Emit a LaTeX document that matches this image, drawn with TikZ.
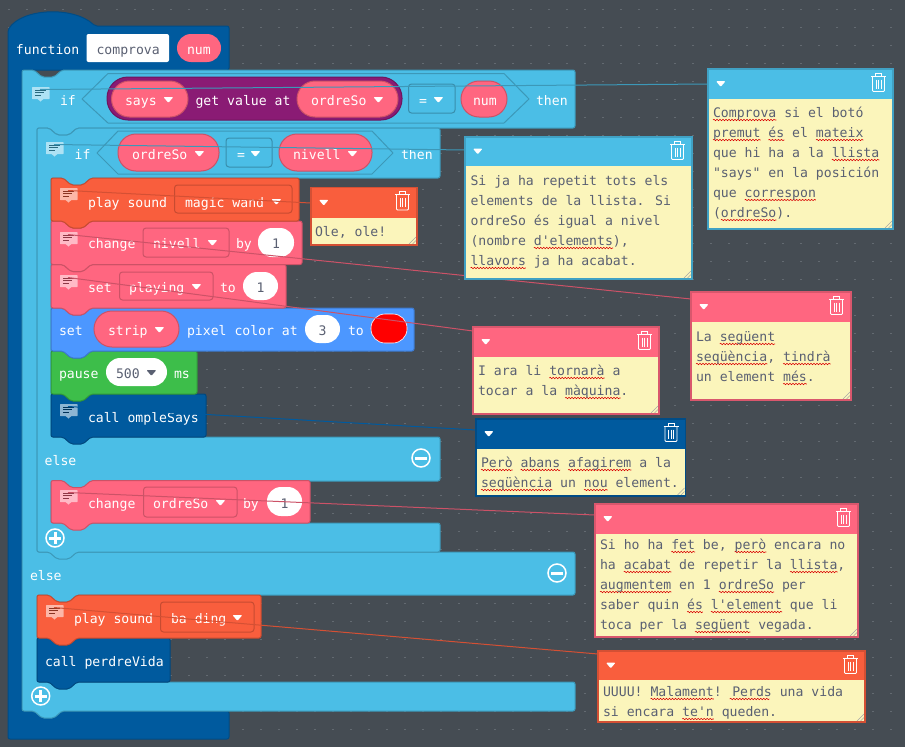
\documentclass[tikz,border=0pt]{standalone}
\usepackage{fontspec}
\usetikzlibrary{decorations.pathmorphing}
\newfontfamily\blkfont{DejaVu Sans Mono}
\definecolor{bgc}{HTML}{454C53}
\definecolor{dotc}{HTML}{636A71}
\definecolor{funcc}{HTML}{005A9E}
\definecolor{logicc}{HTML}{4BBEE6}
\definecolor{varc}{HTML}{FF6680}
\definecolor{musicc}{HTML}{F95E3D}
\definecolor{stripc}{HTML}{4C97FF}
\definecolor{basicc}{HTML}{3DBE4A}
\definecolor{arrc}{HTML}{8A1B74}
\definecolor{notec}{HTML}{FBF5BB}
\definecolor{inkc}{HTML}{5A6072}
\newcounter{itm}
\tikzset{
  x=1pt,y=-1pt,
  lbl/.style={anchor=base west,inner sep=0pt,outer sep=0pt,text=white,font=\blkfont\fontsize{13.15}{20}\selectfont},
  ink/.style={lbl,text=inkc},
  conn/.style={line width=1pt},
  pillbox/.style={fill=varc,draw=varc!80!black,line width=1pt},
  ddbox/.style={line width=1pt},
  whitebox/.style={fill=white,draw=none},
  squig/.style={draw=red!85!black,line width=.55pt,decorate,decoration={snake,amplitude=.7pt,segment length=3pt}},
  trashline/.style={draw=white,line width=.9pt},
}
% generic rounded box as a named node: style, x0,y0,x1,y1, radius
\newcommand{\bx}[6]{\stepcounter{itm}%
  \pgfmathsetmacro{\bw}{#4-#2}\pgfmathsetmacro{\bh}{#5-#3}%
  \pgfmathsetmacro{\bcx}{(#2+#4)/2}\pgfmathsetmacro{\bcy}{(#3+#5)/2}%
  \node (b\theitm) [#1,inner sep=0pt,outer sep=0pt,minimum width=\bw pt,minimum height=\bh pt,rounded corners=#6pt] at (\bcx,\bcy) {};}
\newcommand{\tx}[3]{\stepcounter{itm}\node (t\theitm) [lbl] at (#1,#2) {#3};}
\newcommand{\ti}[3]{\stepcounter{itm}\node (t\theitm) [ink] at (#1,#2) {#3};}
\newcommand{\tc}[3]{\stepcounter{itm}\node (t\theitm) [lbl,anchor=base,text=inkc] at (#1,#2) {#3};}
\newcommand{\tri}[3][white]{\fill[#1,rounded corners=1pt] (#2-.6,#3-8) -- (#2+9.4,#3-8) -- (#2+4.4,#3-2.2) -- cycle;}
\newcommand{\tabdn}[2]{-- (#1+40,#2) -- (#1+32,#2+7) -- (#1+20,#2+7) -- (#1+12,#2) -- (#1,#2)}
\newcommand{\ntop}[2]{-- (#1+12,#2) -- (#1+20,#2+7) -- (#1+32,#2+7) -- (#1+40,#2)}
% statement block: colour, x0,y0,x1,y1
\newcommand{\stmt}[5]{\draw[fill=#1,draw=#1!80!black,line width=1pt,rounded corners=2pt]
  (#2,#3) \ntop{#2}{#3} -- (#4,#3) -- (#4,#5) \tabdn{#2}{#5} -- cycle;}
% comment icon: name,x,y,colour
\newcommand{\cic}[4]{%
  \node (#1box) [fill=#4!45!white,inner sep=0pt,outer sep=0pt,minimum width=17.5pt,minimum height=12pt,anchor=north west,rounded corners=.5pt] at (#2,#3) {};
  \fill[#4!45!white] (#2+5,#3+11.5) -- (#2+12,#3+11.5) -- (#2+8.5,#3+14.5) -- cycle;
  \draw[#4!55!black,line width=.9pt] (#2+3,#3+3) -- (#2+14,#3+3) (#2+3,#3+5.7) -- (#2+12,#3+5.7) (#2+3,#3+8.4) -- (#2+9,#3+8.4);
  \coordinate (#1) at (#2+8,#3+2.5);}
% comment note: name,x0,y0,x1,yh,y1,colour,connector y
\newcommand{\note}[8]{%
  \fill[notec] (#2,#3) rectangle (#4,#6);
  \bx{fill=#7}{#2}{#3}{#4}{#5}{0}
  \draw[#7!85!black,line width=1.3pt] (#2,#3) rectangle (#4,#6);
  \coordinate (#1) at (#2,#8);
  \pgfmathsetmacro{\midh}{(#3+#5)/2}
  \fill[white,rounded corners=1pt] (#2+8,\midh-2.8) -- (#2+17.5,\midh-2.8) -- (#2+12.7,\midh+2.8) -- cycle;
  \begin{scope}[shift={(#4-22,#3+3)},x=1pt,y=-1pt]
    \draw[trashline,rounded corners=1pt] (1.5,4.5) -- (1.5,19.5) -- (13.5,19.5) -- (13.5,4.5);
    \draw[trashline] (0,4.2) -- (15,4.2);
    \draw[trashline] (4.5,4.2) -- (4.5,1) -- (10.5,1) -- (10.5,4.2);
    \draw[trashline,line width=.8pt] (5,7.5) -- (5,16.5) (7.5,7.5) -- (7.5,16.5) (10,7.5) -- (10,16.5);
  \end{scope}
  \draw[gray!70,line width=.6pt] (#4-8,#6-1) -- (#4-1,#6-8) (#4-4.5,#6-1) -- (#4-1,#6-4.5);}
\newcommand{\nl}[3]{\stepcounter{itm}\node (t\theitm) [ink] at (#1,#2) {#3};}
\newcommand{\nlu}[4]{\foreach \ca/\cb in {#4}{\draw[squig] (#1+\ca*7.92,#2+3) -- (#1+\cb*7.92,#2+3);}%
  \nl{#1}{#2}{#3}}
\newcommand{\circbtn}[3]{\stepcounter{itm}%
  \node (c\theitm) [circle,draw=white,line width=1.5pt,minimum size=18pt,inner sep=0pt] at (#1,#2) {};
  \draw[white,line width=3pt] (#1-6,#2) -- (#1+6,#2);
  \ifnum#3=1 \draw[white,line width=3pt] (#1,#2-6) -- (#1,#2+6);\fi}
\begin{document}
\begin{tikzpicture}
\useasboundingbox (0,0) rectangle (905,747);
\fill[bgc] (0,0) rectangle (905,747);
% workspace grid
\foreach \gx in {0,...,50}{\foreach \gy in {0,...,41}{
  \fill[dotc] (8.7+\gx*18-1.1,9.3+\gy*18-.5) rectangle (8.7+\gx*18+1.1,9.3+\gy*18+.5);}}

% function block
\draw[fill=funcc,draw=funcc!85!black,line width=1pt,rounded corners=2pt]
  (8,30) .. controls (22,8) and (74,6) .. (95,26) -- (229,26) -- (229,70) -- (22,70) -- (22,711) -- (229,711) -- (229,739) -- (8,739) -- cycle;
\tx{16}{54}{function}
\bx{whitebox}{86.5}{34}{169}{62}{2}
\ti{96.5}{54}{comprova}
\bx{pillbox,draw=none}{177}{34}{221}{62}{14}
\tx{187}{54}{num}

% outer if
\draw[fill=logicc,draw=logicc!80!black,line width=1pt,rounded corners=2pt]
  (22,70) \ntop{22}{70} -- (575,70) -- (575,128) \tabdn{37}{128} -- (37,552) -- (575,552) -- (575,595)
  \tabdn{37}{595} -- (37,682) -- (575,682) -- (575,711) \tabdn{22}{711} -- cycle;
\draw[fill=logicc,draw=logicc!80!black,line width=1pt,line join=round]
  (82,99) -- (108,73.5) -- (504,73.5) -- (529,99) -- (504,123) -- (108,123) -- cycle;
\bx{fill=arrc,draw=arrc!80!black,line width=1pt}{107}{77}{402}{120}{21}
\tx{60}{105}{if}
\bx{pillbox}{111.5}{81}{188}{117}{18}
\tx{125}{105}{says}\tri{164}{105}
\tx{195.5}{105}{get value at}
\bx{pillbox}{297}{81}{398}{117}{18}
\tx{311}{105}{ordreSo}\tri{374}{105}
\bx{ddbox,fill=logicc,draw=logicc!75!black}{408.5}{84}{455}{113}{3}
\tx{419}{105}{=}\tri{434}{105}
\bx{pillbox}{461}{81}{507}{117}{18}
\tx{473}{105}{num}
\tx{536}{105}{then}
\tx{30}{580}{else}
\circbtn{557}{573}{0}
\circbtn{40.7}{696}{1}

% inner if
\draw[fill=logicc,draw=logicc!80!black,line width=1pt,rounded corners=2pt]
  (37,128) \ntop{37}{128} -- (440,128) -- (440,178) \tabdn{51}{178} -- (51,437) -- (440,437) -- (440,481)
  \tabdn{51}{481} -- (51,523) -- (440,523) -- (440,552) \tabdn{37}{552} -- cycle;
\draw[fill=logicc,draw=logicc!80!black,line width=1pt,line join=round]
  (97,153) -- (118,131) -- (372,131) -- (393,153) -- (372,174) -- (118,174) -- cycle;
\tx{74.7}{159}{if}
\bx{pillbox}{118}{134}{219}{171}{18}
\tx{132}{159}{ordreSo}\tri{195}{159}
\bx{ddbox,fill=logicc,draw=logicc!75!black}{226}{138}{272}{167}{3}
\tx{237}{159}{=}\tri{251}{159}
\bx{pillbox}{279}{134}{372}{171}{18}
\tx{293}{159}{nivell}\tri{348}{159}
\tx{401}{159}{then}
\tx{44.7}{465}{else}
\circbtn{421}{458}{0}
\circbtn{55}{538}{1}

% statements, lowest first so each tab lies over the block below it
\stmt{funcc}{37}{638}{170}{682}
\tx{45}{666}{call perdreVida}
\stmt{musicc}{37}{595}{261}{638}
\bx{ddbox,fill=musicc,draw=musicc!80!black}{160.5}{602}{254}{632}{3}
\tx{74}{623}{play sound}\tx{171}{623}{ba ding}\tri{233}{623}
\cic{icH}{46}{605}{musicc}

\stmt{varc}{51}{480.5}{310}{523}
\bx{ddbox,fill=varc,draw=varc!80!black}{143.5}{487}{237}{517}{3}
\tx{88}{508}{change}\tx{153}{508}{ordreSo}\tri{216}{508}
\tx{243}{508}{by}
\bx{whitebox}{267}{487}{302}{516}{14}
\tc{284.5}{508}{1}
\cic{icG}{60}{490}{varc}

\stmt{funcc}{51}{394}{206}{437}
\tx{88}{422}{call ompleSays}
\cic{icF}{60}{404}{funcc}

\stmt{basicc}{51}{351}{197}{394}
\tx{59}{378}{pause}
\bx{whitebox}{106}{358}{167}{386}{14}
\ti{116}{378}{500}\tri[inkc]{147}{378}
\tx{174}{378}{ms}

\stmt{stripc}{51}{308}{414}{351}
\tx{59}{335}{set}
\bx{pillbox}{94}{311}{179}{347}{18}
\tx{108}{335}{strip}\tri{155}{335}
\tx{187}{335}{pixel color at}
\bx{whitebox}{305}{315}{340}{343}{14}
\tc{322.5}{335}{3}
\tx{348}{335}{to}
\bx{fill=red,draw=white,line width=.6pt}{371}{314}{407}{343}{14}

\stmt{varc}{51}{264.5}{286}{308}
\bx{ddbox,fill=varc,draw=varc!80!black}{119.5}{272}{213}{300}{3}
\tx{88}{292}{set}\tx{129}{292}{playing}\tri{192}{292}
\tx{220}{292}{to}
\bx{whitebox}{243}{272}{278}{300}{14}
\tc{260.5}{292}{1}
\cic{icE}{60}{275}{varc}

\stmt{varc}{51}{221}{302}{264.5}
\bx{ddbox,fill=varc,draw=varc!80!black}{143}{228}{229}{257}{3}
\tx{88}{248}{change}\tx{153}{248}{nivell}\tri{208}{248}
\tx{236}{248}{by}
\bx{whitebox}{258}{228}{294}{257}{14}
\tc{276}{248}{1}
\cic{icD}{60}{232}{varc}

\stmt{musicc}{51}{178}{299}{221}
\bx{ddbox,fill=musicc,draw=musicc!80!black}{174.5}{185}{292}{213}{3}
\tx{88}{207}{play sound}\tx{185}{207}{magic wand}\tri{272}{207}
\cic{icC}{60}{188}{musicc}

\cic{icB}{46}{142}{logicc}
\cic{icA}{32}{87}{logicc}

% connector end points, fixed on each note's left edge
\coordinate (nA) at (708,84);
\coordinate (nB) at (465,150);
\coordinate (nC) at (310.5,203);
\coordinate (nD) at (691,299);
\coordinate (nE) at (473,331);
\coordinate (nF) at (476,430);
\coordinate (nG) at (595,515);
\coordinate (nH) at (598,654);

% connectors
\draw[conn,logicc!80!black] (icA) -- (nA);
\draw[conn,logicc!80!black] (icB) -- (nB);
\draw[conn,musicc!85!black] (icC) -- (nC);
\draw[conn,varc!80!black] (icD) -- (nD);
\draw[conn,varc!80!black] (icE) -- (nE);
\draw[conn,funcc] (icF) -- (nF);
\draw[conn,varc!80!black] (icG) -- (nG);
\draw[conn,musicc!85!black] (icH) -- (nH);

% notes
\note{noteA}{708}{69}{893}{99}{229}{logicc}{84}
\nlu{713}{117}{Comprova si el botó}{0/8}
\nlu{713}{137}{premut és el mateix}{0/6,7/9,13/19}
\nlu{713}{157}{que hi ha a la llista}{15/21}
\nl{713}{177}{"says" en la posición}
\nlu{713}{197}{que correspon}{4/13}
\nlu{713}{217}{(ordreSo).}{1/8}

\note{noteB}{465}{137}{692}{166}{279}{logicc}{150}
\nl{470.5}{185}{Si ja ha repetit tots els}
\nl{470.5}{205}{elements de la llista. Si}
\nl{470.5}{225}{ordreSo és igual a nivel}
\nlu{470.5}{245}{(nombre d'elements),}{8/18}
\nlu{470.5}{265}{llavors ja ha acabat.}{0/7}

\note{noteC}{311}{187.5}{417}{218}{245}{musicc}{203}
\nl{315}{236}{Ole, ole!}

\note{noteD}{691}{292}{851}{322}{400}{varc}{299}
\nlu{696}{341}{La següent}{3/10}
\nlu{696}{361}{seqüència, tindrà}{0/9,11/17}
\nlu{696}{381}{un element més.}{11/14}

\note{noteE}{473}{327}{659}{357}{414}{varc}{331}
\nlu{478}{375}{I ara li tornarà a}{9/16}
\nlu{478}{395}{tocar a la màquina.}{11/18}

\note{noteF}{476}{419}{685.5}{449}{496}{funcc}{430}
\nlu{481}{467}{Però abans afagirem a la}{0/4,5/10,11/19}
\nlu{481}{487}{seqüència un nou element.}{0/9,13/16}

\note{noteG}{595}{504}{858}{534}{637}{varc}{515}
\nlu{600}{549}{Si ho ha fet be, però encara no}{9/12,17/21}
\nlu{600}{569}{ha acabat de repetir la llista,}{3/9,24/30}
\nlu{600}{589}{augmentem en 1 ordreSo per}{0/9,15/22}
\nlu{600}{609}{saber quin és l'element que li}{11/13,14/23}
\nlu{600}{629}{toca per la següent vegada.}{12/19}

\note{noteH}{598}{651}{865}{680}{722}{musicc}{654}
\nlu{603}{696}{UUUU! Malament! Perds una vida}{6/14,16/21}
\nlu{603}{716}{si encara te'n queden.}{10/14}
\end{tikzpicture}
\end{document}
